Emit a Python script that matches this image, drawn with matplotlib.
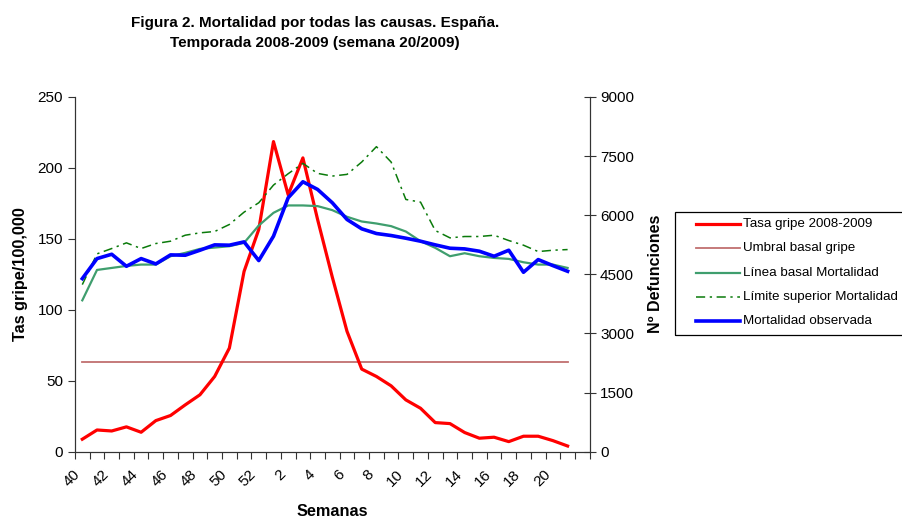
import matplotlib
matplotlib.use("Agg")
import matplotlib.pyplot as plt
from matplotlib.lines import Line2D
from matplotlib.patches import Rectangle

plt.rcParams.update({"font.family": ["Liberation Sans", "DejaVu Sans"]})

# weeks of season 2008-2009 (35 category slots, data up to week 21)
weeks = list(range(40, 53)) + list(range(1, 23))
n_data = 34

tasa_gripe = [8.8, 15.3, 14.6, 17.5, 13.7, 21.9, 25.5, 33.0, 40.1, 53.0, 73.0, 127, 156.6,
              218.5, 181, 207, 163.6, 123, 84.8, 58.2, 53.0, 46.4, 36.5, 30.6, 20.5, 19.8,
              13.5, 9.5, 10.2, 7.1, 10.9, 10.9, 7.8, 4.0]
umbral_gripe = [63.5] * n_data
mort_obs = [4390, 4898, 5008, 4703, 4898, 4763, 4992, 4983, 5110, 5246, 5238, 5322, 4848,
            5466, 6441, 6847, 6652, 6314, 5890, 5653, 5534, 5483, 5415, 5339, 5246, 5161,
            5144, 5085, 4957, 5110, 4551, 4873, 4720, 4576]
mort_basal = [3839, 4610, 4661, 4712, 4746, 4746, 4958, 5043, 5144, 5178, 5212, 5297, 5737,
              6059, 6246, 6246, 6229, 6127, 5958, 5839, 5788, 5721, 5585, 5339, 5170, 4958,
              5034, 4958, 4915, 4890, 4805, 4746, 4746, 4661]
mort_sup = [4238, 5018, 5153, 5297, 5153, 5280, 5339, 5491, 5551, 5585, 5763, 6076, 6314,
            6762, 7051, 7313, 7059, 6991, 7034, 7347, 7737, 7347, 6398, 6330, 5610, 5424,
            5458, 5458, 5491, 5356, 5238, 5076, 5110, 5127]

labels = ["Tasa gripe 2008-2009", "Umbral basal gripe", "Línea basal Mortalidad",
          "Límite superior Mortalidad", "Mortalidad observada"]

x = list(range(n_data))
W, H = 903, 518

fig = plt.figure(figsize=(W / 100, H / 100), dpi=100)
ax = fig.add_axes([0.083, 0.128, 0.57, 0.685])
ax2 = ax.twinx()

c_red, c_umb, c_bas, c_sup, c_obs = "#ff0000", "#c07070", "#3f9e6e", "#0a7a0a", "#0000ff"
styles = [dict(color=c_red, lw=2.3),
          dict(color=c_umb, lw=1.3),
          dict(color=c_bas, lw=1.6),
          dict(color=c_sup, lw=1.1, dashes=(6, 3, 1.5, 3)),
          dict(color=c_obs, lw=2.6)]

ax.plot(x, umbral_gripe, **styles[1])
ax.plot(x, tasa_gripe, **styles[0])
ax2.plot(x, mort_basal, **styles[2])
ax2.plot(x, mort_sup, **styles[3])
ax2.plot(x, mort_obs, **styles[4])

ax.set_xlim(-0.5, len(weeks) - 0.5)
ax.set_ylim(0, 250)
ax2.set_ylim(0, 9000)
ax.set_yticks(range(0, 251, 50))
ax2.set_yticks(range(0, 9001, 1500))

# tick marks between categories, labels on every other category
ax.set_xticks([i - 0.5 for i in range(len(weeks) + 1)])
ax.set_xticklabels([])
ax.set_xticks(range(0, len(weeks) - 1, 2), minor=True)
ax.set_xticklabels([str(weeks[i]) for i in range(0, len(weeks) - 1, 2)], minor=True,
                   rotation=45, ha="right", va="top", fontsize=11)
ax.tick_params(axis="x", which="minor", length=0, pad=11)
ax.tick_params(axis="x", which="major", length=5, color="#333")
ax.tick_params(axis="y", labelsize=11, length=5, color="#333")
ax2.tick_params(axis="y", labelsize=11, length=8, direction="inout", color="#333")

for a in (ax, ax2):
    a.spines["top"].set_visible(False)
    for s in ("left", "right", "bottom"):
        a.spines[s].set_color("#333")

ax.set_ylabel("Tas gripe/100,000", fontsize=11.7, fontweight="bold", labelpad=7)
ax2.set_ylabel("Nº Defunciones", fontsize=11.5, fontweight="bold", labelpad=10)
ax.set_xlabel("Semanas", fontsize=11.7, fontweight="bold", labelpad=11)

fig.text(0.349, 0.97, "Figura 2. Mortalidad por todas las causas. España.\n"
         "Temporada 2008-2009 (semana 20/2009)", ha="center", va="top",
         fontsize=11, fontweight="bold", linespacing=1.6)

# legend box drawn by hand to match the spreadsheet layout
fig.add_artist(Rectangle((675 / W, 1 - 335 / H), 240 / W, 123 / H, transform=fig.transFigure,
                         fill=False, ec="black", lw=0.9))
for k, (lab, st) in enumerate(zip(labels, styles)):
    yk = 1 - (224 + 24.3 * k) / H
    fig.add_artist(Line2D([696 / W, 740 / W], [yk, yk], transform=fig.transFigure, **st))
    fig.text(743 / W, yk, lab, ha="left", va="center", fontsize=9.6)

fig.savefig("out.png", dpi=100)
